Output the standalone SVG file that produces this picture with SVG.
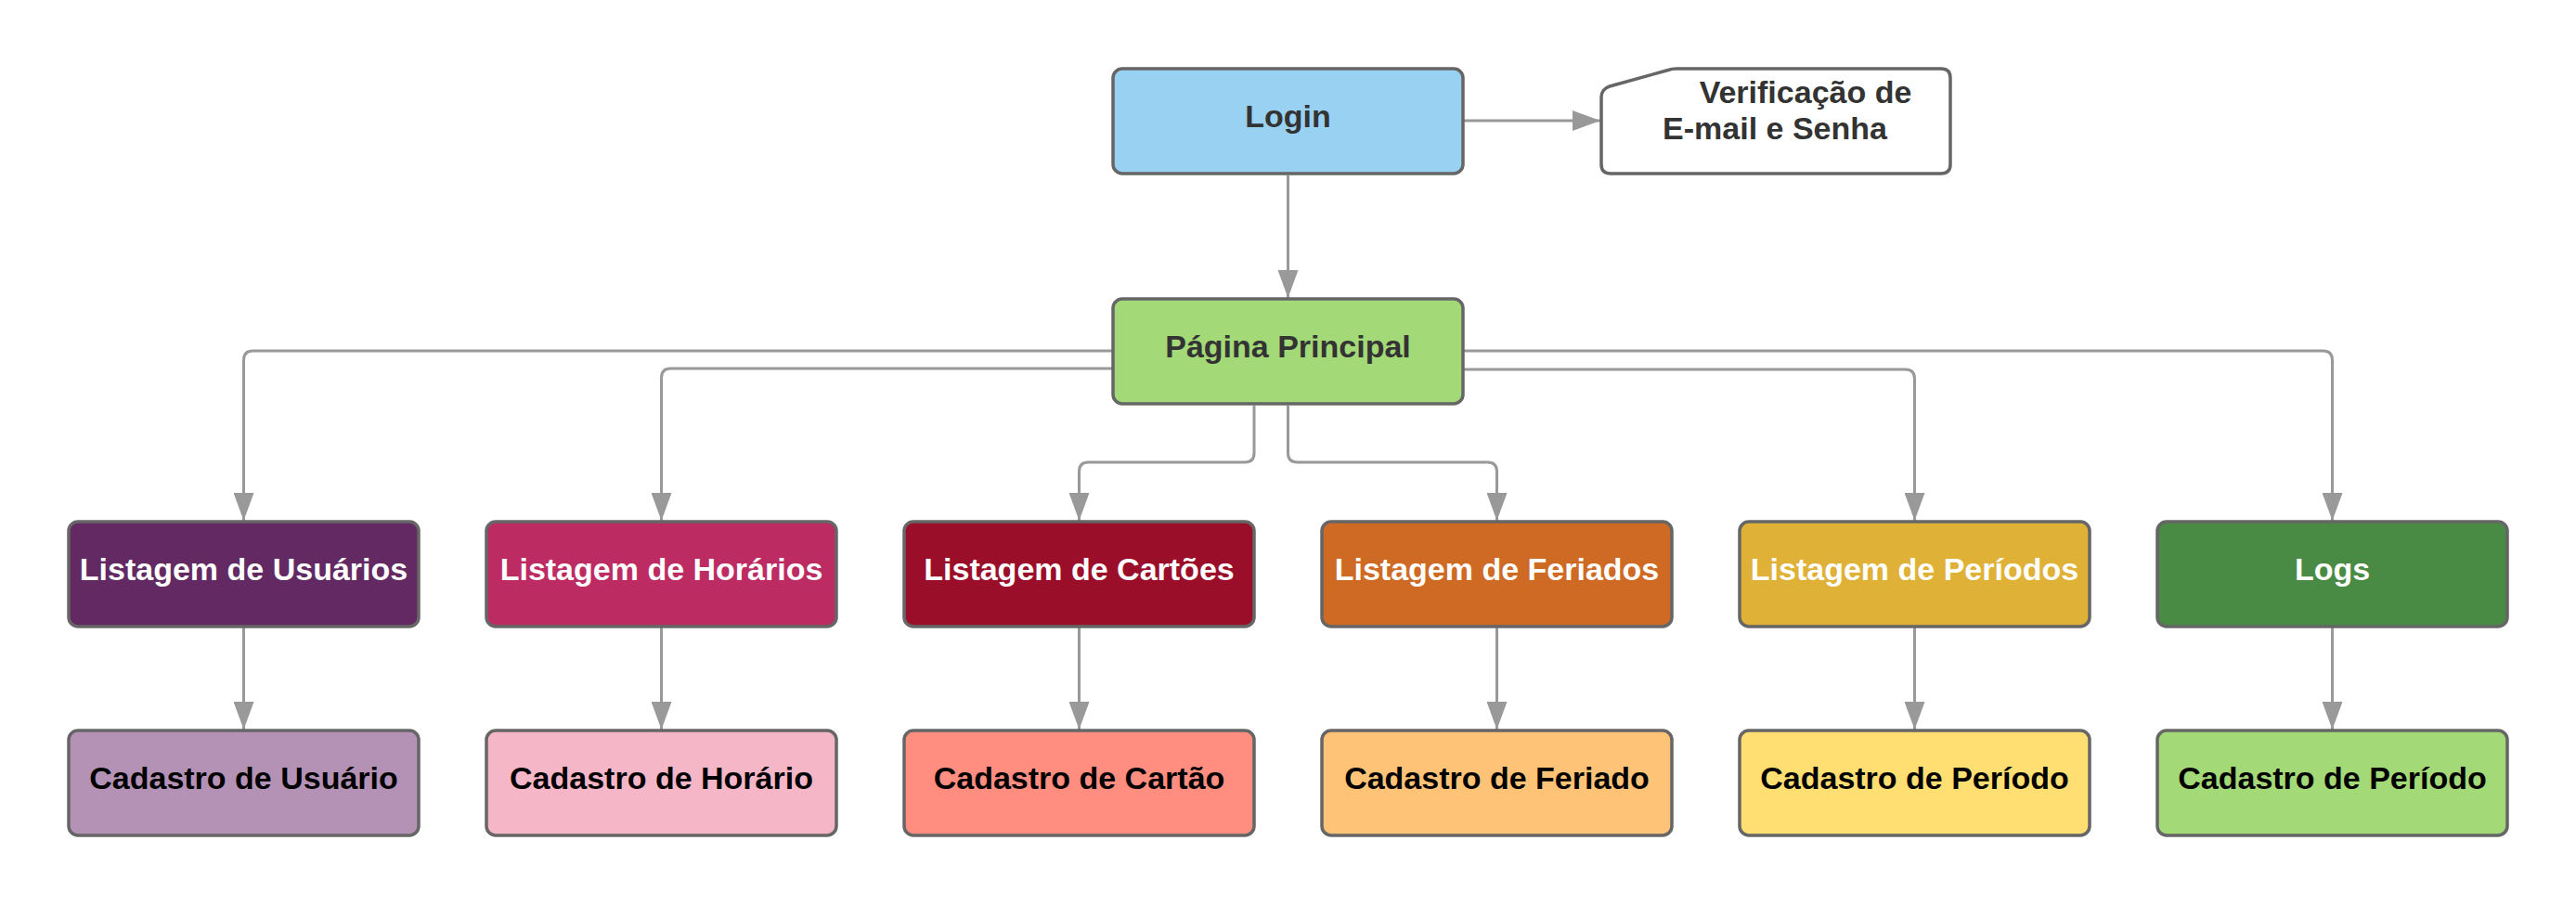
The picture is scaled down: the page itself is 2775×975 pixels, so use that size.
<svg xmlns="http://www.w3.org/2000/svg" width="2775" height="975" viewBox="0 0 2775 975">
<style>
.box{stroke:#666666;stroke-width:3.5}
.t{font-family:"Liberation Sans",Arial,sans-serif;font-weight:bold;font-size:34px;text-anchor:middle}
.dark{fill:#333333}
.white{fill:#ffffff}
.black{fill:#000000}
.conn{fill:none;stroke:#999999;stroke-width:3}
</style>
<defs>
<marker id="arr" markerUnits="userSpaceOnUse" markerWidth="30" markerHeight="22" refX="30" refY="11" orient="auto">
<path d="M0,0 L30,11 L0,22 Z" fill="#999999"/>
</marker>
</defs>
<rect width="2775" height="975" fill="#ffffff"/>
<g id="connectors">
<path class="conn" marker-end="url(#arr)" d="M1577,130 L1724,130"/>
<path class="conn" marker-end="url(#arr)" d="M1387.5,189 L1387.5,321"/>
<path class="conn" marker-end="url(#arr)" d="M1199,378 L272.5,378 Q262.5,378 262.5,388 L262.5,561"/>
<path class="conn" marker-end="url(#arr)" d="M1199,397 L722.5,397 Q712.5,397 712.5,407 L712.5,561"/>
<path class="conn" marker-end="url(#arr)" d="M1351,437 L1351,488 Q1351,498 1341,498 L1172.5,498 Q1162.5,498 1162.5,508 L1162.5,561"/>
<path class="conn" marker-end="url(#arr)" d="M1387.5,437 L1387.5,488 Q1387.5,498 1397.5,498 L1602.5,498 Q1612.5,498 1612.5,508 L1612.5,561"/>
<path class="conn" marker-end="url(#arr)" d="M1577,398 L2052.5,398 Q2062.5,398 2062.5,408 L2062.5,561"/>
<path class="conn" marker-end="url(#arr)" d="M1577,378 L2502.5,378 Q2512.5,378 2512.5,388 L2512.5,561"/>
<path class="conn" marker-end="url(#arr)" d="M262.5,676 L262.5,786"/>
<path class="conn" marker-end="url(#arr)" d="M712.5,676 L712.5,786"/>
<path class="conn" marker-end="url(#arr)" d="M1162.5,676 L1162.5,786"/>
<path class="conn" marker-end="url(#arr)" d="M1612.5,676 L1612.5,786"/>
<path class="conn" marker-end="url(#arr)" d="M2062.5,676 L2062.5,786"/>
<path class="conn" marker-end="url(#arr)" d="M2512.5,676 L2512.5,786"/>
</g>
<g id="login">
<rect class="box" x="1199" y="74" width="377" height="113" rx="10" fill="#99d1f3"/>
<text class="t dark" x="1387.5" y="137">Login</text>
</g>
<g id="verificacao">
<path class="box" fill="#ffffff" d="M1725,105 Q1725,96 1734,93 L1797,75.5 Q1801,74 1806,74 L2091,74 Q2101,74 2101,84 L2101,177 Q2101,187 2091,187 L1735,187 Q1725,187 1725,177 Z"/>
<text class="t dark" x="1945" y="111">Verificação de</text>
<text class="t dark" x="1912" y="150">E-mail e Senha</text>
</g>
<g id="pagina-principal">
<rect class="box" x="1199" y="322" width="377" height="113" rx="10" fill="#a3d977"/>
<text class="t dark" x="1387.5" y="385">Página Principal</text>
</g>
<g id="listagem-usuarios">
<rect class="box" x="74" y="562" width="377" height="113" rx="10" fill="#622963"/>
<text class="t white" x="262.5" y="625">Listagem de Usuários</text>
</g>
<g id="listagem-horarios">
<rect class="box" x="524" y="562" width="377" height="113" rx="10" fill="#bc2c63"/>
<text class="t white" x="712.5" y="625">Listagem de Horários</text>
</g>
<g id="listagem-cartoes">
<rect class="box" x="974" y="562" width="377" height="113" rx="10" fill="#9b0e2a"/>
<text class="t white" x="1162.5" y="625">Listagem de Cartões</text>
</g>
<g id="listagem-feriados">
<rect class="box" x="1424" y="562" width="377" height="113" rx="10" fill="#cf6a24"/>
<text class="t white" x="1612.5" y="625">Listagem de Feriados</text>
</g>
<g id="listagem-periodos">
<rect class="box" x="1874" y="562" width="377" height="113" rx="10" fill="#e0b137"/>
<text class="t white" x="2062.5" y="625">Listagem de Períodos</text>
</g>
<g id="logs">
<rect class="box" x="2324" y="562" width="377" height="113" rx="10" fill="#498b45"/>
<text class="t white" x="2512.5" y="625">Logs</text>
</g>
<g id="cadastro-usuario">
<rect class="box" x="74" y="787" width="377" height="113" rx="10" fill="#b492b6"/>
<text class="t black" x="262.5" y="850">Cadastro de Usuário</text>
</g>
<g id="cadastro-horario">
<rect class="box" x="524" y="787" width="377" height="113" rx="10" fill="#f5b6c8"/>
<text class="t black" x="712.5" y="850">Cadastro de Horário</text>
</g>
<g id="cadastro-cartao">
<rect class="box" x="974" y="787" width="377" height="113" rx="10" fill="#ff8d80"/>
<text class="t black" x="1162.5" y="850">Cadastro de Cartão</text>
</g>
<g id="cadastro-feriado">
<rect class="box" x="1424" y="787" width="377" height="113" rx="10" fill="#ffc378"/>
<text class="t black" x="1612.5" y="850">Cadastro de Feriado</text>
</g>
<g id="cadastro-periodo">
<rect class="box" x="1874" y="787" width="377" height="113" rx="10" fill="#ffdf71"/>
<text class="t black" x="2062.5" y="850">Cadastro de Período</text>
</g>
<g id="cadastro-periodo-logs">
<rect class="box" x="2324" y="787" width="377" height="113" rx="10" fill="#a3d977"/>
<text class="t black" x="2512.5" y="850">Cadastro de Período</text>
</g>
</svg>
